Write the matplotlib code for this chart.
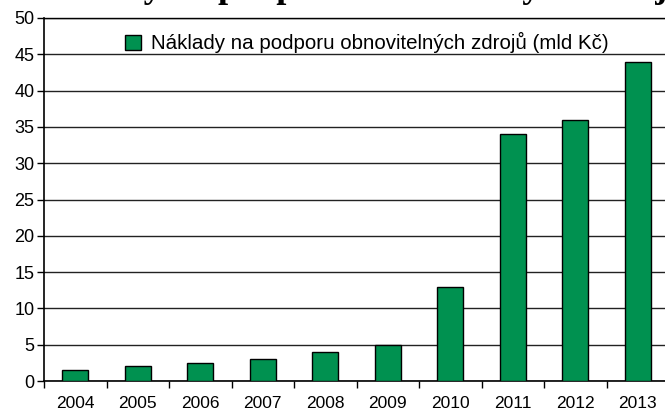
"Naklady na podporu obnovitelnych zdroju - bar chart."

import numpy as np
from matplotlib import pyplot as plt

# ---------------------------------------------------------------------------
# Data
# ---------------------------------------------------------------------------
years = ["2004", "2005", "2006", "2007", "2008", "2009", "2010", "2011", "2012", "2013"]
costs = [1.5, 2, 2.5, 3, 4, 5, 13, 34, 36, 44]
series_label = "Náklady na podporu obnovitelných zdrojů (mld Kč)"
title = "Náklady na podporu obnovitelných zdrojů"

plt.rcParams["font.family"] = ["Liberation Sans", "DejaVu Sans"]

fig = plt.figure(figsize=(6.65, 4.17), dpi=100)
ax = fig.add_axes([44 / 665, 36 / 417, 625 / 665, 363 / 417])

x = np.arange(len(years))
ax.bar(x, costs, width=0.41, color="#009150", edgecolor="black",
       linewidth=1.0, label=series_label, zorder=3)

ax.set_xlim(-0.5, len(years) - 0.5)
ax.set_ylim(0, 50)
ax.set_yticks(range(0, 51, 5))
ax.yaxis.grid(True, color="#222222", linewidth=1.0, zorder=0)

# year labels at the centres, tick marks between the years
ax.set_xticks(x)
ax.set_xticklabels(years)
ax.set_xticks(np.arange(len(years) + 1) - 0.5, minor=True)
ax.tick_params(axis="x", which="major", length=0, pad=11, labelsize=12.5)
ax.tick_params(axis="x", which="minor", length=5, width=1, direction="out")
ax.tick_params(axis="y", length=5, width=1, pad=2, labelsize=13)

ax.spines["right"].set_visible(False)
ax.spines["top"].set_linewidth(1.0)
ax.spines["left"].set_linewidth(1.2)
ax.spines["bottom"].set_linewidth(1.2)

ax.legend(loc="upper center", bbox_to_anchor=(0.517, 1.012), frameon=False,
          fontsize=14.8, handlelength=0.75, handleheight=0.75, handletextpad=0.5)

# title, mostly cut off above the figure edge
fig.text(0.54, 1.0 + 3 / 417, title, ha="center", va="baseline",
         fontsize=26, fontweight="bold", family=["Liberation Serif", "DejaVu Serif"])

fig.savefig("out.png", dpi=100)
